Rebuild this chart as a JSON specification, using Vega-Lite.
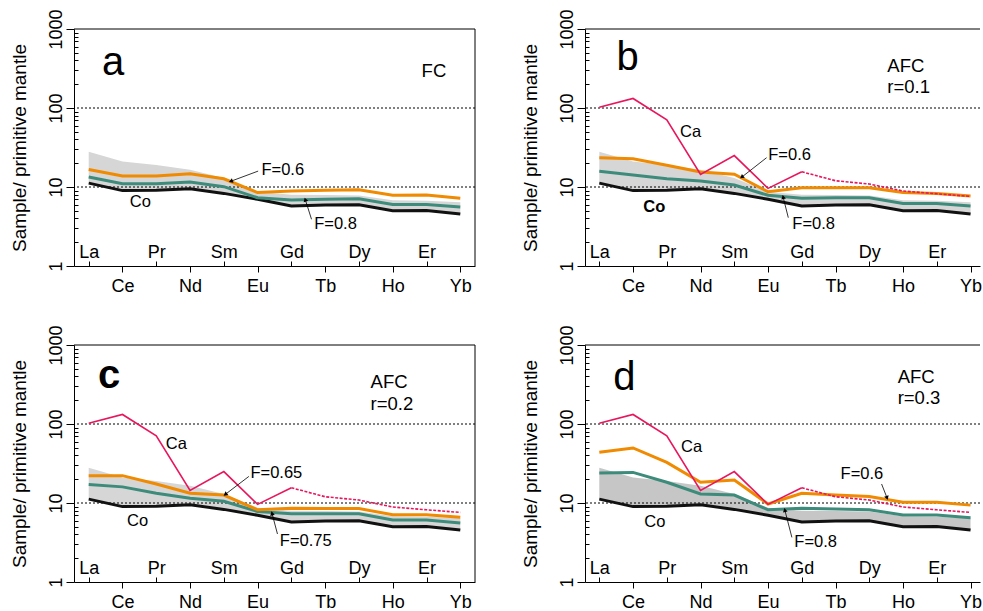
{
  "$schema": "https://vega.github.io/schema/vega-lite/v6.json",
  "background": "white",
  "padding": {"left": 10, "top": 8, "right": 0, "bottom": 0},
  "config": {
    "font": "Liberation Sans",
    "view": {"stroke": null},
    "axis": {"grid": false, "domainColor": "#000", "tickColor": "#000", "labelColor": "#000", "titleColor": "#000", "labelFontSize": 18, "labelFlush": false, "labelOverlap": false, "titleFontWeight": "normal", "titleFontSize": 19, "domainWidth": 1, "tickWidth": 1, "labelFont": "Liberation Sans", "titleFont": "Liberation Sans"}
  },
  "datasets": {
    "common": [
      {"el": "La", "i": 1, "Co": 11.2, "Ca": 102, "hi": 28},
      {"el": "Ce", "i": 2, "Co": 9.0, "Ca": 132, "hi": 21},
      {"el": "Pr", "i": 3, "Co": 9.1, "Ca": 71, "hi": 19},
      {"el": "Nd", "i": 4, "Co": 9.5, "Ca": 14.4, "hi": 16.5},
      {"el": "Sm", "i": 5, "Co": 8.3, "Ca": 25, "hi": 13},
      {"el": "Eu", "i": 6, "Co": 7.0, "Ca": 9.6, "hi": 8.7},
      {"el": "Gd", "i": 7, "Co": 5.75, "Ca": 15.6, "hi": 8.0},
      {"el": "Tb", "i": 8, "Co": 5.9, "Ca": 12, "hi": 7.9},
      {"el": "Dy", "i": 9, "Co": 5.95, "Ca": 10.9, "hi": 7.8},
      {"el": "Ho", "i": 10, "Co": 5.0, "Ca": 8.9, "hi": 6.8},
      {"el": "Er", "i": 11, "Co": 5.05, "Ca": 8.2, "hi": 6.7},
      {"el": "Yb", "i": 12, "Co": 4.55, "Ca": 7.6, "hi": 6.4}
    ],
    "model": [
      {"p": "a", "el": "La", "i": 1, "Flow": 16.7, "Fhigh": 13.4},
      {"p": "a", "el": "Ce", "i": 2, "Flow": 13.8, "Fhigh": 11.0},
      {"p": "a", "el": "Pr", "i": 3, "Flow": 13.8, "Fhigh": 11.0},
      {"p": "a", "el": "Nd", "i": 4, "Flow": 14.7, "Fhigh": 11.6},
      {"p": "a", "el": "Sm", "i": 5, "Flow": 12.7, "Fhigh": 10.1},
      {"p": "a", "el": "Eu", "i": 6, "Flow": 8.5, "Fhigh": 7.3},
      {"p": "a", "el": "Gd", "i": 7, "Flow": 8.9, "Fhigh": 6.85},
      {"p": "a", "el": "Tb", "i": 8, "Flow": 9.1, "Fhigh": 7.0},
      {"p": "a", "el": "Dy", "i": 9, "Flow": 9.2, "Fhigh": 7.1},
      {"p": "a", "el": "Ho", "i": 10, "Flow": 7.85, "Fhigh": 6.0},
      {"p": "a", "el": "Er", "i": 11, "Flow": 7.9, "Fhigh": 6.0},
      {"p": "a", "el": "Yb", "i": 12, "Flow": 7.2, "Fhigh": 5.6},
      {"p": "b", "el": "La", "i": 1, "Flow": 23.5, "Fhigh": 15.8},
      {"p": "b", "el": "Ce", "i": 2, "Flow": 22.8, "Fhigh": 14.2},
      {"p": "b", "el": "Pr", "i": 3, "Flow": 18.8, "Fhigh": 12.7},
      {"p": "b", "el": "Nd", "i": 4, "Flow": 15.5, "Fhigh": 11.9},
      {"p": "b", "el": "Sm", "i": 5, "Flow": 14.5, "Fhigh": 10.6},
      {"p": "b", "el": "Eu", "i": 6, "Flow": 8.7, "Fhigh": 7.85},
      {"p": "b", "el": "Gd", "i": 7, "Flow": 9.8, "Fhigh": 7.2},
      {"p": "b", "el": "Tb", "i": 8, "Flow": 9.8, "Fhigh": 7.3},
      {"p": "b", "el": "Dy", "i": 9, "Flow": 9.8, "Fhigh": 7.3},
      {"p": "b", "el": "Ho", "i": 10, "Flow": 8.5, "Fhigh": 6.2},
      {"p": "b", "el": "Er", "i": 11, "Flow": 8.3, "Fhigh": 6.2},
      {"p": "b", "el": "Yb", "i": 12, "Flow": 7.7, "Fhigh": 5.75},
      {"p": "c", "el": "La", "i": 1, "Flow": 22.2, "Fhigh": 17.1},
      {"p": "c", "el": "Ce", "i": 2, "Flow": 22.2, "Fhigh": 16.0},
      {"p": "c", "el": "Pr", "i": 3, "Flow": 17.4, "Fhigh": 13.3},
      {"p": "c", "el": "Nd", "i": 4, "Flow": 13.3, "Fhigh": 11.5},
      {"p": "c", "el": "Sm", "i": 5, "Flow": 12.6, "Fhigh": 10.5},
      {"p": "c", "el": "Eu", "i": 6, "Flow": 8.2, "Fhigh": 7.8},
      {"p": "c", "el": "Gd", "i": 7, "Flow": 8.6, "Fhigh": 7.3},
      {"p": "c", "el": "Tb", "i": 8, "Flow": 8.5, "Fhigh": 7.3},
      {"p": "c", "el": "Dy", "i": 9, "Flow": 8.5, "Fhigh": 7.3},
      {"p": "c", "el": "Ho", "i": 10, "Flow": 7.1, "Fhigh": 6.1},
      {"p": "c", "el": "Er", "i": 11, "Flow": 7.1, "Fhigh": 6.1},
      {"p": "c", "el": "Yb", "i": 12, "Flow": 6.6, "Fhigh": 5.6},
      {"p": "d", "el": "La", "i": 1, "Flow": 43.8, "Fhigh": 24.0},
      {"p": "d", "el": "Ce", "i": 2, "Flow": 49.7, "Fhigh": 24.4},
      {"p": "d", "el": "Pr", "i": 3, "Flow": 32.7, "Fhigh": 18.3},
      {"p": "d", "el": "Nd", "i": 4, "Flow": 18.3, "Fhigh": 13.0},
      {"p": "d", "el": "Sm", "i": 5, "Flow": 19.5, "Fhigh": 12.6},
      {"p": "d", "el": "Eu", "i": 6, "Flow": 9.7, "Fhigh": 8.2},
      {"p": "d", "el": "Gd", "i": 7, "Flow": 13.3, "Fhigh": 8.6},
      {"p": "d", "el": "Tb", "i": 8, "Flow": 12.6, "Fhigh": 8.4},
      {"p": "d", "el": "Dy", "i": 9, "Flow": 12.1, "Fhigh": 8.2},
      {"p": "d", "el": "Ho", "i": 10, "Flow": 10.2, "Fhigh": 7.05},
      {"p": "d", "el": "Er", "i": 11, "Flow": 10.2, "Fhigh": 7.05},
      {"p": "d", "el": "Yb", "i": 12, "Flow": 9.4, "Fhigh": 6.5}
    ],
    "refs": [{"level": 10}, {"level": 100}, {"level": 1000}],
    "notes": [
      {"p": "a", "kind": "letter", "i": 1.394, "v": 262, "t": "a"},
      {"p": "a", "kind": "method", "i": 10.855, "v": 247, "t": "FC"},
      {"p": "a", "kind": "label", "i": 6.114, "v": 14.2, "t": "F=0.6"},
      {"p": "a", "kind": "label", "i": 7.676, "v": 2.97, "t": "F=0.8"},
      {"p": "a", "kind": "label", "i": 2.215, "v": 5.58, "t": "Co"},
      {"p": "b", "kind": "letter", "i": 1.513, "v": 300, "t": "b"},
      {"p": "b", "kind": "method", "i": 9.533, "v": 286, "t": "AFC"},
      {"p": "b", "kind": "method", "i": 9.533, "v": 156, "t": "r=0.1"},
      {"p": "b", "kind": "label", "i": 3.391, "v": 42.9, "t": "Ca"},
      {"p": "b", "kind": "label", "i": 6.007, "v": 21.8, "t": "F=0.6"},
      {"p": "b", "kind": "label", "i": 6.719, "v": 2.91, "t": "F=0.8"},
      {"p": "b", "kind": "label", "i": 2.304, "v": 4.87, "t": "Co"},
      {"p": "c", "kind": "letter", "i": 1.276, "v": 282, "t": "c"},
      {"p": "c", "kind": "method", "i": 9.344, "v": 282, "t": "AFC"},
      {"p": "c", "kind": "method", "i": 9.344, "v": 150, "t": "r=0.2"},
      {"p": "c", "kind": "label", "i": 3.281, "v": 48.3, "t": "Ca"},
      {"p": "c", "kind": "label", "i": 5.788, "v": 20.7, "t": "F=0.65"},
      {"p": "c", "kind": "label", "i": 6.659, "v": 2.88, "t": "F=0.75"},
      {"p": "c", "kind": "label", "i": 2.135, "v": 5.16, "t": "Co"},
      {"p": "d", "kind": "letter", "i": 1.415, "v": 272, "t": "d"},
      {"p": "d", "kind": "method", "i": 9.84, "v": 330, "t": "AFC"},
      {"p": "d", "kind": "method", "i": 9.84, "v": 179, "t": "r=0.3"},
      {"p": "d", "kind": "label", "i": 3.42, "v": 43.7, "t": "Ca"},
      {"p": "d", "kind": "label", "i": 8.15, "v": 20.1, "t": "F=0.6"},
      {"p": "d", "kind": "label", "i": 6.778, "v": 2.74, "t": "F=0.8"},
      {"p": "d", "kind": "label", "i": 2.333, "v": 4.91, "t": "Co"}
    ],
    "arrows": [
      {"p": "a", "arrow": "a1", "end": "tail", "i": 6.016, "v": 15.9},
      {"p": "a", "arrow": "a1", "end": "tip", "i": 5.225, "v": 11.9},
      {"p": "a", "arrow": "a2", "end": "tail", "i": 7.596, "v": 3.9},
      {"p": "a", "arrow": "a2", "end": "tip", "i": 7.418, "v": 6.79},
      {"p": "b", "arrow": "b1", "end": "tail", "i": 5.957, "v": 23.5},
      {"p": "b", "arrow": "b1", "end": "tip", "i": 5.237, "v": 13.5},
      {"p": "b", "arrow": "b2", "end": "tail", "i": 6.6, "v": 4.09},
      {"p": "b", "arrow": "b2", "end": "tip", "i": 6.452, "v": 7.32},
      {"p": "c", "arrow": "c1", "end": "tail", "i": 5.741, "v": 21.7},
      {"p": "c", "arrow": "c1", "end": "tip", "i": 5.059, "v": 13.0},
      {"p": "c", "arrow": "c2", "end": "tail", "i": 6.588, "v": 4.05},
      {"p": "c", "arrow": "c2", "end": "tip", "i": 6.431, "v": 7.26},
      {"p": "d", "arrow": "d1", "end": "tail", "i": 9.364, "v": 17.4},
      {"p": "d", "arrow": "d1", "end": "tip", "i": 9.519, "v": 11.8},
      {"p": "d", "arrow": "d2", "end": "tail", "i": 6.706, "v": 3.67},
      {"p": "d", "arrow": "d2", "end": "tip", "i": 6.502, "v": 8.0}
    ]
  },
  "bounds": "flush",
  "columns": 2,
  "spacing": {"row": 79, "column": 110},
  "concat": [
    {
      "width": 401, "height": 237,
      "resolve": {"axis": {"x": "independent", "y": "independent"}},
      "layer": [
        {"data": {"name": "common"}, "mark": {"type": "area", "color": "#d6d6d6"},
         "encoding": {
           "x": {"field": "i", "type": "quantitative", "scale": {"domain": [0.5645, 12.4355], "nice": false, "zero": false},
                 "axis": {"orient": "bottom", "values": [2, 4, 6, 8, 10, 12], "labelExpr": "['','La','Ce','Pr','Nd','Sm','Eu','Gd','Tb','Dy','Ho','Er','Yb'][datum.value]", "tickSize": 6, "labelPadding": 19, "labelBaseline": "alphabetic", "labelAlign": "center", "labelAngle": 0, "title": null}},
           "y": {"field": "hi", "type": "quantitative", "scale": {"type": "log", "domain": [1, 1000], "nice": false},
                 "axis": {"orient": "left", "values": [1, 10, 100, 1000], "format": "d", "labelAngle": -90, "labelAlign": "center", "labelBaseline": "alphabetic", "tickSize": 8, "labelPadding": 5, "title": "Sample/ primitive mantle", "titlePadding": 18}},
           "y2": {"field": "Co"}
         }},
        {"data": {"name": "refs"}, "transform": [{"filter": "datum.level < 1000"}], "mark": {"type": "rule", "color": "#000", "strokeDash": [2, 2], "strokeWidth": 1},
         "encoding": {"y": {"field": "level", "type": "quantitative", "axis": null}}},
        {"data": {"name": "refs"}, "transform": [{"filter": "datum.level == 1000"}], "mark": {"type": "rule", "color": "#000", "strokeWidth": 1},
         "encoding": {"y": {"field": "level", "type": "quantitative", "axis": null}}},
        {"data": {"name": "refs"}, "transform": [{"filter": "datum.level == 1000"}], "mark": {"type": "rule", "color": "#000", "strokeWidth": 1},
         "encoding": {"x": {"datum": 12.4355, "type": "quantitative", "axis": null}}},
        {"data": {"name": "common"}, "mark": {"type": "line", "color": "#111", "strokeWidth": 3},
         "encoding": {
           "x": {"field": "i", "type": "quantitative", "axis": {"orient": "bottom", "values": [1, 3, 5, 7, 9, 11], "labelExpr": "['','La','Ce','Pr','Nd','Sm','Eu','Gd','Tb','Dy','Ho','Er','Yb'][datum.value]", "tickSize": -5, "labelPadding": -4, "labelBaseline": "alphabetic", "labelAlign": "center", "labelAngle": 0, "domain": false, "title": null}},
           "y": {"field": "Co", "type": "quantitative", "axis": {"orient": "left", "values": [2, 3, 4, 5, 6, 7, 8, 9, 20, 30, 40, 50, 60, 70, 80, 90, 200, 300, 400, 500, 600, 700, 800, 900], "tickSize": -4, "labels": false, "domain": false, "title": null}}
         }},
        {"data": {"name": "model"}, "transform": [{"filter": "datum.p == 'a'"}], "mark": {"type": "line", "color": "#3d8b7b", "strokeWidth": 3},
         "encoding": {"x": {"field": "i", "type": "quantitative", "axis": null}, "y": {"field": "Fhigh", "type": "quantitative", "axis": null}}},
        {"data": {"name": "model"}, "transform": [{"filter": "datum.p == 'a'"}], "mark": {"type": "line", "color": "#f08a00", "strokeWidth": 3},
         "encoding": {"x": {"field": "i", "type": "quantitative", "axis": null}, "y": {"field": "Flow", "type": "quantitative", "axis": null}}},
        {"data": {"name": "arrows"}, "transform": [{"filter": "datum.p == 'a'"}], "mark": {"type": "line", "color": "#000", "strokeWidth": 0.8},
         "encoding": {"x": {"field": "i", "type": "quantitative", "axis": null}, "y": {"field": "v", "type": "quantitative", "axis": null}, "detail": {"field": "arrow"}}},
        {"data": {"name": "arrows"}, "transform": [{"filter": "datum.arrow == 'a1' && datum.end == 'tip'"}], "mark": {"type": "point", "shape": "triangle", "filled": true, "color": "#000", "opacity": 1, "size": 22, "angle": 250},
         "encoding": {"x": {"field": "i", "type": "quantitative", "axis": null}, "y": {"field": "v", "type": "quantitative", "axis": null}}},
        {"data": {"name": "arrows"}, "transform": [{"filter": "datum.arrow == 'a2' && datum.end == 'tip'"}], "mark": {"type": "point", "shape": "triangle", "filled": true, "color": "#000", "opacity": 1, "size": 22, "angle": 342},
         "encoding": {"x": {"field": "i", "type": "quantitative", "axis": null}, "y": {"field": "v", "type": "quantitative", "axis": null}}},
        {"data": {"name": "notes"}, "transform": [{"filter": "datum.p == 'a' && datum.kind == 'letter'"}], "mark": {"type": "text", "fontSize": 40, "align": "left", "baseline": "alphabetic", "color": "#000"},
         "encoding": {"x": {"field": "i", "type": "quantitative", "axis": null}, "y": {"field": "v", "type": "quantitative", "axis": null}, "text": {"field": "t"}}},
        {"data": {"name": "notes"}, "transform": [{"filter": "datum.p == 'a' && datum.kind == 'method'"}], "mark": {"type": "text", "fontSize": 18.5, "align": "left", "baseline": "alphabetic", "color": "#000"},
         "encoding": {"x": {"field": "i", "type": "quantitative", "axis": null}, "y": {"field": "v", "type": "quantitative", "axis": null}, "text": {"field": "t"}}},
        {"data": {"name": "notes"}, "transform": [{"filter": "datum.p == 'a' && datum.kind == 'label'"}], "mark": {"type": "text", "fontSize": 16.5, "align": "left", "baseline": "alphabetic", "color": "#000"},
         "encoding": {"x": {"field": "i", "type": "quantitative", "axis": null}, "y": {"field": "v", "type": "quantitative", "axis": null}, "text": {"field": "t"}}}
      ]
    },
    {
      "width": 395, "height": 237,
      "resolve": {"axis": {"x": "independent", "y": "independent"}},
      "layer": [
        {"data": {"name": "common"}, "mark": {"type": "area", "color": "#d6d6d6"},
         "encoding": {
           "x": {"field": "i", "type": "quantitative", "scale": {"domain": [0.5763, 12.28], "nice": false, "zero": false},
                 "axis": {"orient": "bottom", "values": [2, 4, 6, 8, 10, 12], "labelExpr": "['','La','Ce','Pr','Nd','Sm','Eu','Gd','Tb','Dy','Ho','Er','Yb'][datum.value]", "tickSize": 6, "labelPadding": 19, "labelBaseline": "alphabetic", "labelAlign": "center", "labelAngle": 0, "title": null}},
           "y": {"field": "hi", "type": "quantitative", "scale": {"type": "log", "domain": [1, 1000], "nice": false},
                 "axis": {"orient": "left", "values": [1, 10, 100, 1000], "format": "d", "labelAngle": -90, "labelAlign": "center", "labelBaseline": "alphabetic", "tickSize": 8, "labelPadding": 5, "title": "Sample/ primitive mantle", "titlePadding": 18}},
           "y2": {"field": "Co"}
         }},
        {"data": {"name": "refs"}, "transform": [{"filter": "datum.level < 1000"}], "mark": {"type": "rule", "color": "#000", "strokeDash": [2, 2], "strokeWidth": 1},
         "encoding": {"y": {"field": "level", "type": "quantitative", "axis": null}}},
        {"data": {"name": "refs"}, "transform": [{"filter": "datum.level == 1000"}], "mark": {"type": "rule", "color": "#000", "strokeWidth": 1},
         "encoding": {"y": {"field": "level", "type": "quantitative", "axis": null}}},
        {"data": {"name": "common"}, "mark": {"type": "line", "color": "#111", "strokeWidth": 3},
         "encoding": {
           "x": {"field": "i", "type": "quantitative", "axis": {"orient": "bottom", "values": [1, 3, 5, 7, 9, 11], "labelExpr": "['','La','Ce','Pr','Nd','Sm','Eu','Gd','Tb','Dy','Ho','Er','Yb'][datum.value]", "tickSize": -5, "labelPadding": -4, "labelBaseline": "alphabetic", "labelAlign": "center", "labelAngle": 0, "domain": false, "title": null}},
           "y": {"field": "Co", "type": "quantitative", "axis": {"orient": "left", "values": [2, 3, 4, 5, 6, 7, 8, 9, 20, 30, 40, 50, 60, 70, 80, 90, 200, 300, 400, 500, 600, 700, 800, 900], "tickSize": -4, "labels": false, "domain": false, "title": null}}
         }},
        {"data": {"name": "model"}, "transform": [{"filter": "datum.p == 'b'"}], "mark": {"type": "line", "color": "#3d8b7b", "strokeWidth": 3},
         "encoding": {"x": {"field": "i", "type": "quantitative", "axis": null}, "y": {"field": "Fhigh", "type": "quantitative", "axis": null}}},
        {"data": {"name": "model"}, "transform": [{"filter": "datum.p == 'b'"}], "mark": {"type": "line", "color": "#f08a00", "strokeWidth": 3},
         "encoding": {"x": {"field": "i", "type": "quantitative", "axis": null}, "y": {"field": "Flow", "type": "quantitative", "axis": null}}},
        {"data": {"name": "common"}, "transform": [{"filter": "datum.i <= 7"}], "mark": {"type": "line", "color": "#e8175d", "strokeWidth": 1.6},
         "encoding": {"x": {"field": "i", "type": "quantitative", "axis": null}, "y": {"field": "Ca", "type": "quantitative", "axis": null}}},
        {"data": {"name": "common"}, "transform": [{"filter": "datum.i >= 7"}], "mark": {"type": "line", "color": "#e8175d", "strokeWidth": 1.6, "strokeDash": [3, 1.5]},
         "encoding": {"x": {"field": "i", "type": "quantitative", "axis": null}, "y": {"field": "Ca", "type": "quantitative", "axis": null}}},
        {"data": {"name": "arrows"}, "transform": [{"filter": "datum.p == 'b'"}], "mark": {"type": "line", "color": "#000", "strokeWidth": 0.8},
         "encoding": {"x": {"field": "i", "type": "quantitative", "axis": null}, "y": {"field": "v", "type": "quantitative", "axis": null}, "detail": {"field": "arrow"}}},
        {"data": {"name": "arrows"}, "transform": [{"filter": "datum.arrow == 'b1' && datum.end == 'tip'"}], "mark": {"type": "point", "shape": "triangle", "filled": true, "color": "#000", "opacity": 1, "size": 22, "angle": 232},
         "encoding": {"x": {"field": "i", "type": "quantitative", "axis": null}, "y": {"field": "v", "type": "quantitative", "axis": null}}},
        {"data": {"name": "arrows"}, "transform": [{"filter": "datum.arrow == 'b2' && datum.end == 'tip'"}], "mark": {"type": "point", "shape": "triangle", "filled": true, "color": "#000", "opacity": 1, "size": 22, "angle": 346},
         "encoding": {"x": {"field": "i", "type": "quantitative", "axis": null}, "y": {"field": "v", "type": "quantitative", "axis": null}}},
        {"data": {"name": "notes"}, "transform": [{"filter": "datum.p == 'b' && datum.kind == 'letter'"}], "mark": {"type": "text", "fontSize": 40, "align": "left", "baseline": "alphabetic", "color": "#000"},
         "encoding": {"x": {"field": "i", "type": "quantitative", "axis": null}, "y": {"field": "v", "type": "quantitative", "axis": null}, "text": {"field": "t"}}},
        {"data": {"name": "notes"}, "transform": [{"filter": "datum.p == 'b' && datum.kind == 'method'"}], "mark": {"type": "text", "fontSize": 18.5, "align": "left", "baseline": "alphabetic", "color": "#000"},
         "encoding": {"x": {"field": "i", "type": "quantitative", "axis": null}, "y": {"field": "v", "type": "quantitative", "axis": null}, "text": {"field": "t"}}},
        {"data": {"name": "notes"}, "transform": [{"filter": "datum.p == 'b' && datum.kind == 'label' && datum.t != 'Co'"}], "mark": {"type": "text", "fontSize": 16.5, "align": "left", "baseline": "alphabetic", "color": "#000"},
         "encoding": {"x": {"field": "i", "type": "quantitative", "axis": null}, "y": {"field": "v", "type": "quantitative", "axis": null}, "text": {"field": "t"}}},
        {"data": {"name": "notes"}, "transform": [{"filter": "datum.p == 'b' && datum.t == 'Co'"}], "mark": {"type": "text", "fontSize": 16.5, "fontWeight": "bold", "align": "left", "baseline": "alphabetic", "color": "#000"},
         "encoding": {"x": {"field": "i", "type": "quantitative", "axis": null}, "y": {"field": "v", "type": "quantitative", "axis": null}, "text": {"field": "t"}}}
      ]
    },
    {
      "width": 401, "height": 237,
      "resolve": {"axis": {"x": "independent", "y": "independent"}},
      "layer": [
        {"data": {"name": "common"}, "mark": {"type": "area", "color": "#d6d6d6"},
         "encoding": {
           "x": {"field": "i", "type": "quantitative", "scale": {"domain": [0.5645, 12.4355], "nice": false, "zero": false},
                 "axis": {"orient": "bottom", "values": [2, 4, 6, 8, 10, 12], "labelExpr": "['','La','Ce','Pr','Nd','Sm','Eu','Gd','Tb','Dy','Ho','Er','Yb'][datum.value]", "tickSize": 6, "labelPadding": 19, "labelBaseline": "alphabetic", "labelAlign": "center", "labelAngle": 0, "title": null}},
           "y": {"field": "hi", "type": "quantitative", "scale": {"type": "log", "domain": [1, 1000], "nice": false},
                 "axis": {"orient": "left", "values": [1, 10, 100, 1000], "format": "d", "labelAngle": -90, "labelAlign": "center", "labelBaseline": "alphabetic", "tickSize": 8, "labelPadding": 5, "title": "Sample/ primitive mantle", "titlePadding": 18}},
           "y2": {"field": "Co"}
         }},
        {"data": {"name": "refs"}, "transform": [{"filter": "datum.level < 1000"}], "mark": {"type": "rule", "color": "#000", "strokeDash": [2, 2], "strokeWidth": 1},
         "encoding": {"y": {"field": "level", "type": "quantitative", "axis": null}}},
        {"data": {"name": "refs"}, "transform": [{"filter": "datum.level == 1000"}], "mark": {"type": "rule", "color": "#000", "strokeWidth": 1},
         "encoding": {"y": {"field": "level", "type": "quantitative", "axis": null}}},
        {"data": {"name": "refs"}, "transform": [{"filter": "datum.level == 1000"}], "mark": {"type": "rule", "color": "#000", "strokeWidth": 1},
         "encoding": {"x": {"datum": 12.4355, "type": "quantitative", "axis": null}}},
        {"data": {"name": "common"}, "mark": {"type": "line", "color": "#111", "strokeWidth": 3},
         "encoding": {
           "x": {"field": "i", "type": "quantitative", "axis": {"orient": "bottom", "values": [1, 3, 5, 7, 9, 11], "labelExpr": "['','La','Ce','Pr','Nd','Sm','Eu','Gd','Tb','Dy','Ho','Er','Yb'][datum.value]", "tickSize": -5, "labelPadding": -4, "labelBaseline": "alphabetic", "labelAlign": "center", "labelAngle": 0, "domain": false, "title": null}},
           "y": {"field": "Co", "type": "quantitative", "axis": {"orient": "left", "values": [2, 3, 4, 5, 6, 7, 8, 9, 20, 30, 40, 50, 60, 70, 80, 90, 200, 300, 400, 500, 600, 700, 800, 900], "tickSize": -4, "labels": false, "domain": false, "title": null}}
         }},
        {"data": {"name": "model"}, "transform": [{"filter": "datum.p == 'c'"}], "mark": {"type": "line", "color": "#3d8b7b", "strokeWidth": 3},
         "encoding": {"x": {"field": "i", "type": "quantitative", "axis": null}, "y": {"field": "Fhigh", "type": "quantitative", "axis": null}}},
        {"data": {"name": "model"}, "transform": [{"filter": "datum.p == 'c'"}], "mark": {"type": "line", "color": "#f08a00", "strokeWidth": 3},
         "encoding": {"x": {"field": "i", "type": "quantitative", "axis": null}, "y": {"field": "Flow", "type": "quantitative", "axis": null}}},
        {"data": {"name": "common"}, "transform": [{"filter": "datum.i <= 7"}], "mark": {"type": "line", "color": "#e8175d", "strokeWidth": 1.6},
         "encoding": {"x": {"field": "i", "type": "quantitative", "axis": null}, "y": {"field": "Ca", "type": "quantitative", "axis": null}}},
        {"data": {"name": "common"}, "transform": [{"filter": "datum.i >= 7"}], "mark": {"type": "line", "color": "#e8175d", "strokeWidth": 1.6, "strokeDash": [3, 1.5]},
         "encoding": {"x": {"field": "i", "type": "quantitative", "axis": null}, "y": {"field": "Ca", "type": "quantitative", "axis": null}}},
        {"data": {"name": "arrows"}, "transform": [{"filter": "datum.p == 'c'"}], "mark": {"type": "line", "color": "#000", "strokeWidth": 0.8},
         "encoding": {"x": {"field": "i", "type": "quantitative", "axis": null}, "y": {"field": "v", "type": "quantitative", "axis": null}, "detail": {"field": "arrow"}}},
        {"data": {"name": "arrows"}, "transform": [{"filter": "datum.arrow == 'c1' && datum.end == 'tip'"}], "mark": {"type": "point", "shape": "triangle", "filled": true, "color": "#000", "opacity": 1, "size": 22, "angle": 233},
         "encoding": {"x": {"field": "i", "type": "quantitative", "axis": null}, "y": {"field": "v", "type": "quantitative", "axis": null}}},
        {"data": {"name": "arrows"}, "transform": [{"filter": "datum.arrow == 'c2' && datum.end == 'tip'"}], "mark": {"type": "point", "shape": "triangle", "filled": true, "color": "#000", "opacity": 1, "size": 22, "angle": 345},
         "encoding": {"x": {"field": "i", "type": "quantitative", "axis": null}, "y": {"field": "v", "type": "quantitative", "axis": null}}},
        {"data": {"name": "notes"}, "transform": [{"filter": "datum.p == 'c' && datum.kind == 'letter'"}], "mark": {"type": "text", "fontSize": 40, "fontWeight": "bold", "align": "left", "baseline": "alphabetic", "color": "#000"},
         "encoding": {"x": {"field": "i", "type": "quantitative", "axis": null}, "y": {"field": "v", "type": "quantitative", "axis": null}, "text": {"field": "t"}}},
        {"data": {"name": "notes"}, "transform": [{"filter": "datum.p == 'c' && datum.kind == 'method'"}], "mark": {"type": "text", "fontSize": 18.5, "align": "left", "baseline": "alphabetic", "color": "#000"},
         "encoding": {"x": {"field": "i", "type": "quantitative", "axis": null}, "y": {"field": "v", "type": "quantitative", "axis": null}, "text": {"field": "t"}}},
        {"data": {"name": "notes"}, "transform": [{"filter": "datum.p == 'c' && datum.kind == 'label'"}], "mark": {"type": "text", "fontSize": 16.5, "align": "left", "baseline": "alphabetic", "color": "#000"},
         "encoding": {"x": {"field": "i", "type": "quantitative", "axis": null}, "y": {"field": "v", "type": "quantitative", "axis": null}, "text": {"field": "t"}}}
      ]
    },
    {
      "width": 395, "height": 237,
      "resolve": {"axis": {"x": "independent", "y": "independent"}},
      "layer": [
        {"data": {"name": "common"}, "mark": {"type": "area", "color": "#c6c6c6"},
         "encoding": {
           "x": {"field": "i", "type": "quantitative", "scale": {"domain": [0.5763, 12.28], "nice": false, "zero": false},
                 "axis": {"orient": "bottom", "values": [2, 4, 6, 8, 10, 12], "labelExpr": "['','La','Ce','Pr','Nd','Sm','Eu','Gd','Tb','Dy','Ho','Er','Yb'][datum.value]", "tickSize": 6, "labelPadding": 19, "labelBaseline": "alphabetic", "labelAlign": "center", "labelAngle": 0, "title": null}},
           "y": {"field": "hi", "type": "quantitative", "scale": {"type": "log", "domain": [1, 1000], "nice": false},
                 "axis": {"orient": "left", "values": [1, 10, 100, 1000], "format": "d", "labelAngle": -90, "labelAlign": "center", "labelBaseline": "alphabetic", "tickSize": 8, "labelPadding": 5, "title": "Sample/ primitive mantle", "titlePadding": 18}},
           "y2": {"field": "Co"}
         }},
        {"data": {"name": "refs"}, "transform": [{"filter": "datum.level < 1000"}], "mark": {"type": "rule", "color": "#000", "strokeDash": [2, 2], "strokeWidth": 1},
         "encoding": {"y": {"field": "level", "type": "quantitative", "axis": null}}},
        {"data": {"name": "refs"}, "transform": [{"filter": "datum.level == 1000"}], "mark": {"type": "rule", "color": "#000", "strokeWidth": 1},
         "encoding": {"y": {"field": "level", "type": "quantitative", "axis": null}}},
        {"data": {"name": "common"}, "mark": {"type": "line", "color": "#111", "strokeWidth": 3},
         "encoding": {
           "x": {"field": "i", "type": "quantitative", "axis": {"orient": "bottom", "values": [1, 3, 5, 7, 9, 11], "labelExpr": "['','La','Ce','Pr','Nd','Sm','Eu','Gd','Tb','Dy','Ho','Er','Yb'][datum.value]", "tickSize": -5, "labelPadding": -4, "labelBaseline": "alphabetic", "labelAlign": "center", "labelAngle": 0, "domain": false, "title": null}},
           "y": {"field": "Co", "type": "quantitative", "axis": {"orient": "left", "values": [2, 3, 4, 5, 6, 7, 8, 9, 20, 30, 40, 50, 60, 70, 80, 90, 200, 300, 400, 500, 600, 700, 800, 900], "tickSize": -4, "labels": false, "domain": false, "title": null}}
         }},
        {"data": {"name": "model"}, "transform": [{"filter": "datum.p == 'd'"}], "mark": {"type": "line", "color": "#3d8b7b", "strokeWidth": 3},
         "encoding": {"x": {"field": "i", "type": "quantitative", "axis": null}, "y": {"field": "Fhigh", "type": "quantitative", "axis": null}}},
        {"data": {"name": "model"}, "transform": [{"filter": "datum.p == 'd'"}], "mark": {"type": "line", "color": "#f08a00", "strokeWidth": 3},
         "encoding": {"x": {"field": "i", "type": "quantitative", "axis": null}, "y": {"field": "Flow", "type": "quantitative", "axis": null}}},
        {"data": {"name": "common"}, "transform": [{"filter": "datum.i <= 7"}], "mark": {"type": "line", "color": "#e8175d", "strokeWidth": 1.6},
         "encoding": {"x": {"field": "i", "type": "quantitative", "axis": null}, "y": {"field": "Ca", "type": "quantitative", "axis": null}}},
        {"data": {"name": "common"}, "transform": [{"filter": "datum.i >= 7"}], "mark": {"type": "line", "color": "#e8175d", "strokeWidth": 1.6, "strokeDash": [3, 1.5]},
         "encoding": {"x": {"field": "i", "type": "quantitative", "axis": null}, "y": {"field": "Ca", "type": "quantitative", "axis": null}}},
        {"data": {"name": "arrows"}, "transform": [{"filter": "datum.p == 'd'"}], "mark": {"type": "line", "color": "#000", "strokeWidth": 0.8},
         "encoding": {"x": {"field": "i", "type": "quantitative", "axis": null}, "y": {"field": "v", "type": "quantitative", "axis": null}, "detail": {"field": "arrow"}}},
        {"data": {"name": "arrows"}, "transform": [{"filter": "datum.arrow == 'd1' && datum.end == 'tip'"}], "mark": {"type": "point", "shape": "triangle", "filled": true, "color": "#000", "opacity": 1, "size": 22, "angle": 160},
         "encoding": {"x": {"field": "i", "type": "quantitative", "axis": null}, "y": {"field": "v", "type": "quantitative", "axis": null}}},
        {"data": {"name": "arrows"}, "transform": [{"filter": "datum.arrow == 'd2' && datum.end == 'tip'"}], "mark": {"type": "point", "shape": "triangle", "filled": true, "color": "#000", "opacity": 1, "size": 22, "angle": 346},
         "encoding": {"x": {"field": "i", "type": "quantitative", "axis": null}, "y": {"field": "v", "type": "quantitative", "axis": null}}},
        {"data": {"name": "notes"}, "transform": [{"filter": "datum.p == 'd' && datum.kind == 'letter'"}], "mark": {"type": "text", "fontSize": 40, "align": "left", "baseline": "alphabetic", "color": "#000"},
         "encoding": {"x": {"field": "i", "type": "quantitative", "axis": null}, "y": {"field": "v", "type": "quantitative", "axis": null}, "text": {"field": "t"}}},
        {"data": {"name": "notes"}, "transform": [{"filter": "datum.p == 'd' && datum.kind == 'method'"}], "mark": {"type": "text", "fontSize": 18.5, "align": "left", "baseline": "alphabetic", "color": "#000"},
         "encoding": {"x": {"field": "i", "type": "quantitative", "axis": null}, "y": {"field": "v", "type": "quantitative", "axis": null}, "text": {"field": "t"}}},
        {"data": {"name": "notes"}, "transform": [{"filter": "datum.p == 'd' && datum.kind == 'label'"}], "mark": {"type": "text", "fontSize": 16.5, "align": "left", "baseline": "alphabetic", "color": "#000"},
         "encoding": {"x": {"field": "i", "type": "quantitative", "axis": null}, "y": {"field": "v", "type": "quantitative", "axis": null}, "text": {"field": "t"}}}
      ]
    }
  ]
}
